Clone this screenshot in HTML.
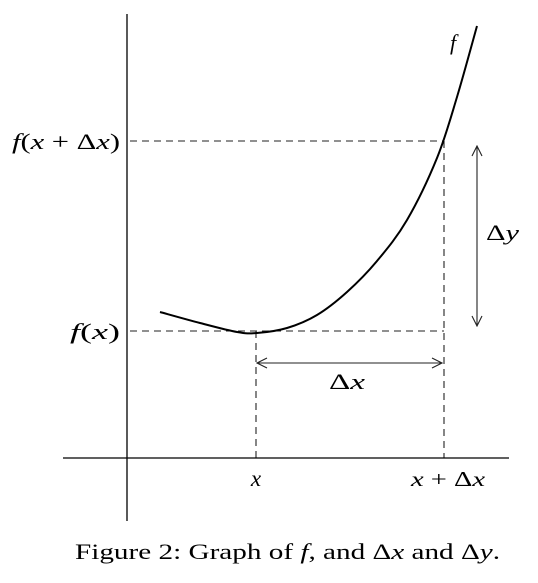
<!DOCTYPE html>
<html><head><meta charset="utf-8">
<style>
html,body{margin:0;padding:0;background:#fff;}
svg{display:block;}
text{font-family:"Liberation Serif",serif;fill:#000;}
.m{font-style:italic;}
</style></head>
<body>
<svg width="538" height="583" viewBox="0 0 538 583">
<defs>
<marker id="ah" viewBox="0 0 12 12" refX="11" refY="6" markerWidth="12" markerHeight="12" markerUnits="userSpaceOnUse" orient="auto-start-reverse">
<path d="M1,1 L11,6 L1,11" fill="none" stroke="#222" stroke-width="1.1"/>
</marker>
</defs>
<g id="plot"></g>
<line x1="127" y1="14" x2="127" y2="521" stroke="#000" stroke-width="1.3"/>
<line x1="63" y1="458" x2="509" y2="458" stroke="#000" stroke-width="1.3"/>
<text x="12" y="149" font-size="22" textLength="108" lengthAdjust="spacingAndGlyphs"><tspan class="m">f</tspan>(<tspan class="m">x</tspan> + Δ<tspan class="m">x</tspan>)</text>
<text x="70" y="339" font-size="22" textLength="50" lengthAdjust="spacingAndGlyphs"><tspan class="m">f</tspan>(<tspan class="m">x</tspan>)</text>
<text x="256" y="486" font-size="23" text-anchor="middle" class="m">x</text>
<text x="411" y="486" font-size="21" textLength="74" lengthAdjust="spacingAndGlyphs"><tspan class="m">x</tspan> + Δ<tspan class="m">x</tspan></text>
<text x="329" y="389" font-size="22" textLength="36" lengthAdjust="spacingAndGlyphs">Δ<tspan class="m">x</tspan></text>
<text x="486" y="240" font-size="22" textLength="33" lengthAdjust="spacingAndGlyphs">Δ<tspan class="m">y</tspan></text>
<text x="450" y="50" font-size="22" class="m">f</text>
<text x="75" y="559" font-size="22" textLength="425" lengthAdjust="spacingAndGlyphs">Figure 2: Graph of <tspan class="m">f</tspan>, and Δ<tspan class="m">x</tspan> and Δ<tspan class="m">y</tspan>.</text>
</svg>
<script>
const curveX = [33, 73, 110, 130, 160, 190, 220, 250, 280, 310, 330, 350];
const curveY = [146, 135, 126, 125, 130, 143, 166, 197, 238, 300, 361, 432];
const fx = 129, fxd = 317;
const yfx = 127, yfxd = 317;
const ns = "http://www.w3.org/2000/svg";
const g = document.getElementById('plot');
function sx(v){ return 127 + v; }
function sy(v){ return 458 - v; }
function line(x1,y1,x2,y2,dash,name,marker){
  const l=document.createElementNS(ns,'line');
  l.setAttribute('x1',x1);l.setAttribute('y1',y1);l.setAttribute('x2',x2);l.setAttribute('y2',y2);
  l.setAttribute('stroke', '#222');
  l.setAttribute('stroke-width', 1.1);
  if(dash) l.setAttribute('stroke-dasharray','7,5');
  if(marker){ l.setAttribute('marker-start','url(#ah)'); l.setAttribute('marker-end','url(#ah)'); }
  
  
  g.appendChild(l);
}
line(sx(0)+3, sy(yfxd), sx(fxd), sy(yfxd), true, 'guide-f-x-plus-dx');
line(sx(0)+3, sy(yfx), sx(fxd), sy(yfx), true, 'guide-f-x');
line(sx(fx), sy(yfx), sx(fx), sy(0), true, 'guide-x');
line(sx(fxd), sy(yfxd), sx(fxd), sy(0), true, 'guide-x-plus-dx');
line(sx(fx)+1, 363, sx(fxd)-2, 363, false, 'delta-x-arrow', true);
line(477, sy(yfxd)+5, 477, sy(yfx)-5, false, 'delta-y-arrow', true);
let d='';
for(let i=0;i<curveX.length;i++){
  const px=sx(curveX[i]), py=sy(curveY[i]);
  if(i===0) d+='M'+px+','+py;
  else {
    const a=Math.max(i-2,0), b=Math.min(i+1,curveX.length-1);
    const p0x=sx(curveX[a]), p0y=sy(curveY[a]);
    const p1x=sx(curveX[i-1]), p1y=sy(curveY[i-1]);
    const p3x=sx(curveX[b]), p3y=sy(curveY[b]);
    const c1x=p1x+(px-p0x)/6, c1y=p1y+(py-p0y)/6, c2x=px-(p3x-p1x)/6, c2y=py-(p3y-p1y)/6;
    d+=' C'+c1x+','+c1y+' '+c2x+','+c2y+' '+px+','+py;
  }
}
const p=document.createElementNS(ns,'path');
p.setAttribute('d',d);p.setAttribute('fill','none');p.setAttribute('stroke','#000');p.setAttribute('stroke-width','2');


g.appendChild(p);
</script>
</body></html>
